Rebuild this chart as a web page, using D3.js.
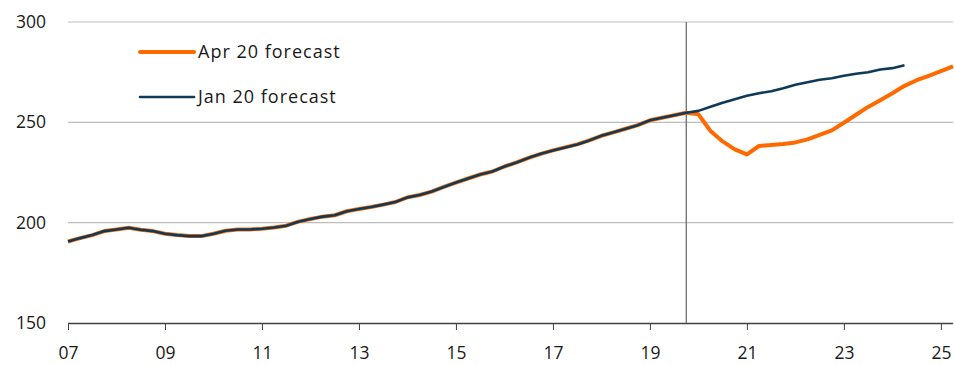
<!DOCTYPE html>
<html>
<head>
<meta charset="utf-8">
<script src="https://cdn.jsdelivr.net/npm/d3@7/dist/d3.min.js"></script>
<style>
  html, body { margin: 0; padding: 0; background: #fff; }
  svg { display: block; font-family: "Open Sans", "Noto Sans", sans-serif; }
</style>
</head>
<body>
<svg id="chart" width="954" height="365"></svg>
<script>
// Quarterly index, 2007 Q1 onwards
const startYear = 2007;

// Outturn shared by both forecasts, 2007 Q1 – 2019 Q4
const history = [
  190.6, 192.3, 193.8, 195.8,
  196.6, 197.5, 196.5, 195.8,
  194.5, 193.8, 193.3, 193.3,
  194.5, 196.0, 196.6, 196.6,
  197.0, 197.6, 198.5, 200.5,
  201.8, 203.0, 203.7, 205.7,
  206.8, 207.8, 209.0, 210.3,
  212.6, 213.8, 215.5, 217.8,
  220.0, 222.0, 224.0, 225.5,
  228.0, 230.0, 232.3, 234.3,
  236.0, 237.5, 239.0, 241.0,
  243.3, 245.0, 246.8, 248.6,
  251.0, 252.3, 253.5, 254.8
];

// January 2020 forecast path, 2020 Q1 – 2024 Q2
const janForecast = [
  255.7, 257.8, 259.8, 261.5,
  263.2, 264.5, 265.5, 267.0,
  268.7, 270.0, 271.2, 272.0,
  273.2, 274.2, 275.0, 276.3,
  277.0, 278.5
];

// April 2020 forecast path, 2020 Q1 – 2025 Q2
const aprForecast = [
  254.0, 245.7, 240.5, 236.5,
  234.0, 238.2, 238.7, 239.2,
  240.0, 241.5, 243.8, 246.0,
  249.8, 253.8, 257.7, 261.0,
  264.5, 268.2, 271.0, 273.2,
  275.5, 277.9
];

const yTicks = [150, 200, 250, 300];
const xTickYears = [2007, 2009, 2011, 2013, 2015, 2017, 2019, 2021, 2023, 2025];
const forecastStart = 2019.75;   // last outturn quarter

const seriesNames = ["Apr 20 forecast", "Jan 20 forecast"];
const colors = { apr: "#ff6a00", jan: "#0d3a58" };

function toPoints(values, offset) {
  return values.map((v, i) => ({ t: startYear + (offset + i) / 4, v }));
}
const aprSeries = toPoints(history.concat(aprForecast), 0);
const janSeries = toPoints(history.concat(janForecast), 0);

const svg = d3.select("#chart");
const plot = { left: 68, right: 953, top: 22, bottom: 323 };
const fontStack = "\"Open Sans\", \"Noto Sans\", sans-serif";

const x = d3.scaleLinear().domain([2007, 2025.25]).range([plot.left, plot.right]);
const y = d3.scaleLinear().domain([150, 300]).range([plot.bottom, plot.top]);

// Horizontal gridlines
svg.append("g")
  .selectAll("line")
  .data(yTicks.filter(d => d !== 150))
  .join("line")
  .attr("x1", plot.left).attr("x2", plot.right)
  .attr("y1", d => y(d)).attr("y2", d => y(d))
  .attr("stroke", "#bdbdbd").attr("stroke-width", 1.2);

// Y axis labels
const yAxis = d3.axisLeft(y).tickValues(yTicks).tickSize(0).tickPadding(0);
svg.append("g")
  .attr("transform", `translate(${plot.left - 22},0)`)
  .call(yAxis)
  .call(g => g.select(".domain").remove())
  .call(g => g.selectAll("text")
    .attr("font-size", 17.5).attr("fill", "#1a1a1a")
    .attr("font-family", fontStack));

// X axis with downward ticks
const xAxis = d3.axisBottom(x)
  .tickValues(xTickYears)
  .tickSize(7)
  .tickPadding(17)
  .tickFormat(d => String(d % 100).padStart(2, "0"));
svg.append("g")
  .attr("transform", `translate(0,${plot.bottom})`)
  .call(xAxis)
  .call(g => g.select(".domain").attr("d", `M${plot.left},0.5H${plot.right}`)
    .attr("stroke", "#404040").attr("stroke-width", 1.3))
  .call(g => g.selectAll(".tick line").attr("stroke", "#404040").attr("stroke-width", 1))
  .call(g => g.selectAll("text")
    .attr("font-size", 17.5).attr("fill", "#1a1a1a")
    .attr("font-family", fontStack));

// Vertical marker at the start of the forecast period
svg.append("line")
  .attr("x1", x(forecastStart)).attr("x2", x(forecastStart))
  .attr("y1", plot.top).attr("y2", plot.bottom)
  .attr("stroke", "#6e6e6e").attr("stroke-width", 1.3);

const line = d3.line().x(d => x(d.t)).y(d => y(d.v));

svg.append("path")
  .datum(aprSeries)
  .attr("d", line)
  .attr("fill", "none")
  .attr("stroke", colors.apr)
  .attr("stroke-width", 4)
  .attr("stroke-linejoin", "round");

svg.append("path")
  .datum(janSeries)
  .attr("d", line)
  .attr("fill", "none")
  .attr("stroke", colors.jan)
  .attr("stroke-width", 2.6)
  .attr("stroke-linejoin", "round");

// Legend
const legend = svg.append("g");
const legendItems = [
  { name: seriesNames[0], color: colors.apr, width: 4, y: 52 },
  { name: seriesNames[1], color: colors.jan, width: 2.6, y: 97 }
];
legendItems.forEach(item => {
  legend.append("line")
    .attr("x1", 140).attr("x2", 194)
    .attr("y1", item.y).attr("y2", item.y)
    .attr("stroke", item.color).attr("stroke-width", item.width)
    .attr("stroke-linecap", "round");
  legend.append("text")
    .attr("x", 198).attr("y", item.y)
    .attr("dy", "0.35em")
    .attr("font-size", 18).attr("fill", "#1a1a1a")
    .attr("letter-spacing", 1)
    .text(item.name);
});
</script>
</body>
</html>
